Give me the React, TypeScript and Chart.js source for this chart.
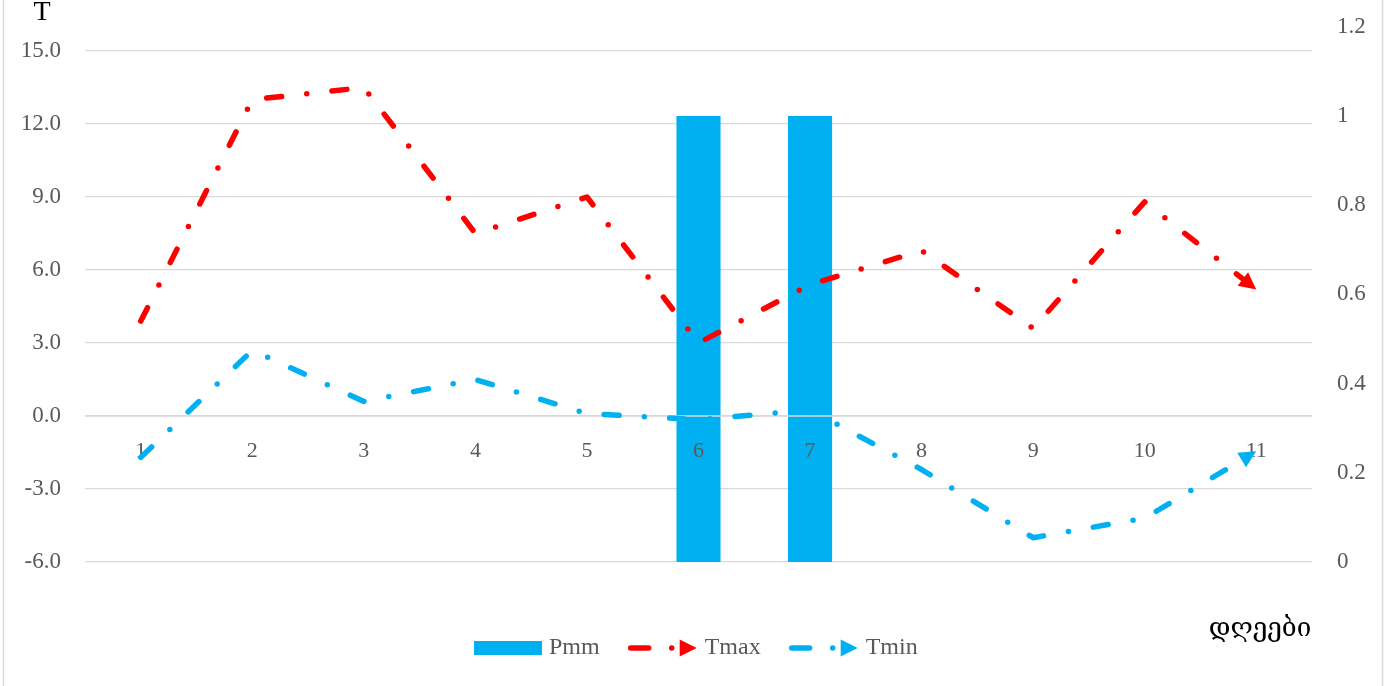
import React, { useEffect, useRef } from 'react';
import { Chart, registerables } from 'chart.js';

Chart.register(...registerables);

// ---- data ----
const categories = ['1', '2', '3', '4', '5', '6', '7', '8', '9', '10', '11'];
const pmm = [0, 0, 0, 0, 0, 1, 1, 0, 0, 0, 0];
const tmax = [3.9, 13.0, 13.5, 7.5, 9.0, 3.0, 5.4, 6.8, 3.6, 8.8, 5.2];
const tmin = [-1.7, 2.7, 0.6, 1.5, 0.1, -0.15, 0.25, -2.2, -5.0, -4.2, -1.45];
const leftTicks = [-6, -3, 0, 3, 6, 9, 12, 15];
const rightTicks = [0, 0.2, 0.4, 0.6, 0.8, 1, 1.2];
const seriesNames = ['Pmm', 'Tmax', 'Tmin'];
const yTitle = 'T';
const xTitle = 'დღეები';

// ---- styles ----
const BLUE = '#00B0F0';
const RED = '#FF0000';
const GRID = '#D9D9D9';
const TEXT = '#595959';
const SERIF = "'Liberation Serif', 'Times New Roman', serif";
const DASH = [15, 25.3, 0, 25.3];
const LINE_W = 5.5;

function drawTriangle(ctx: CanvasRenderingContext2D, tipX: number, tipY: number, angle: number, len: number, half: number, color: string) {
  const dx = Math.cos(angle), dy = Math.sin(angle);
  const bx = tipX - dx * len, by = tipY - dy * len;
  ctx.beginPath();
  ctx.moveTo(tipX, tipY);
  ctx.lineTo(bx - dy * half, by + dx * half);
  ctx.lineTo(bx + dy * half, by - dx * half);
  ctx.closePath();
  ctx.fillStyle = color;
  ctx.fill();
}

const decorPlugin = {
  id: 'decor',
  beforeDraw(chart: any) {
    const ctx = chart.ctx as CanvasRenderingContext2D;
    ctx.save();
    ctx.strokeStyle = GRID;
    ctx.lineWidth = 1.5;
    ctx.beginPath();
    ctx.moveTo(3.5, 0);
    ctx.lineTo(3.5, chart.height);
    ctx.moveTo(1382.5, 0);
    ctx.lineTo(1382.5, chart.height);
    ctx.stroke();
    ctx.restore();
  },
  afterDatasetDraw(chart: any, args: any) {
    if (args.index !== 0) return;
    const ctx = chart.ctx as CanvasRenderingContext2D;
    const xs = chart.scales.x;
    const ys = chart.scales.y;
    const y0 = ys.getPixelForValue(0);
    ctx.save();
    ctx.strokeStyle = GRID;
    ctx.lineWidth = 1.3;
    ctx.beginPath();
    ctx.moveTo(chart.chartArea.left, y0);
    ctx.lineTo(chart.chartArea.right, y0);
    ctx.stroke();
    ctx.fillStyle = TEXT;
    ctx.font = `22px ${SERIF}`;
    ctx.textAlign = 'center';
    ctx.textBaseline = 'middle';
    categories.forEach((c, i) => {
      ctx.fillText(c, xs.getPixelForValue(i), y0 + 35);
    });
    ctx.restore();
  },
  afterDatasetsDraw(chart: any) {
    const ctx = chart.ctx as CanvasRenderingContext2D;
    ctx.save();
    [1, 2].forEach((di) => {
      const meta = chart.getDatasetMeta(di);
      const pts = meta.data;
      const n = pts.length;
      const a = pts[n - 2], b = pts[n - 1];
      const ang = Math.atan2(b.y - a.y, b.x - a.x);
      drawTriangle(ctx, b.x, b.y, ang, 17, 8.5, chart.data.datasets[di].borderColor);
    });
    ctx.restore();
  },
  afterDraw(chart: any) {
    const ctx = chart.ctx as CanvasRenderingContext2D;
    ctx.save();
    // axis titles
    ctx.fillStyle = '#000000';
    ctx.font = `28px ${SERIF}`;
    ctx.textAlign = 'center';
    ctx.textBaseline = 'middle';
    ctx.fillText(yTitle, 42, 13);
    ctx.font = "26px 'DejaVu Serif', 'DejaVu Sans', sans-serif";
    ctx.fillText(xTitle, 1260, 629);

    // legend
    const ly = 648;
    ctx.font = `24px ${SERIF}`;
    ctx.textAlign = 'left';
    ctx.textBaseline = 'middle';
    let x = 474;
    // Pmm
    ctx.fillStyle = BLUE;
    ctx.fillRect(x, ly - 7, 68, 14);
    x += 68 + 7;
    ctx.fillStyle = TEXT;
    ctx.fillText(seriesNames[0], x, ly);
    x += ctx.measureText(seriesNames[0]).width + 28;
    // lines
    [[RED, seriesNames[1]], [BLUE, seriesNames[2]]].forEach(([col, name]) => {
      ctx.strokeStyle = col;
      ctx.fillStyle = col;
      ctx.lineWidth = LINE_W;
      ctx.lineCap = 'round';
      ctx.beginPath();
      ctx.moveTo(x + 3, ly);
      ctx.lineTo(x + 21, ly);
      ctx.stroke();
      ctx.beginPath();
      ctx.arc(x + 44, ly, LINE_W / 2, 0, Math.PI * 2);
      ctx.fill();
      drawTriangle(ctx, x + 69, ly, 0, 17, 8.5, col);
      x += 69 + 8;
      ctx.fillStyle = TEXT;
      ctx.fillText(name, x, ly);
      x += ctx.measureText(name).width + 28;
    });
    ctx.restore();
  },
};

export default function App() {
  const ref = useRef<HTMLCanvasElement | null>(null);

  useEffect(() => {
    if (!ref.current) return;
    const chart = new Chart(ref.current, {
      type: 'bar',
      data: {
        labels: categories,
        datasets: [
          {
            type: 'bar',
            label: seriesNames[0],
            data: pmm,
            yAxisID: 'y1',
            backgroundColor: BLUE,
            borderWidth: 0,
            barPercentage: 0.395,
            categoryPercentage: 1,
            order: 5,
          } as any,
          {
            type: 'line',
            label: seriesNames[1],
            data: tmax,
            yAxisID: 'y',
            borderColor: RED,
            borderWidth: LINE_W,
            borderDash: DASH,
            borderCapStyle: 'round',
            borderJoinStyle: 'round',
            pointRadius: 0,
            tension: 0,
            fill: false,
            order: 1,
          } as any,
          {
            type: 'line',
            label: seriesNames[2],
            data: tmin,
            yAxisID: 'y',
            borderColor: BLUE,
            borderWidth: LINE_W,
            borderDash: DASH,
            borderCapStyle: 'round',
            borderJoinStyle: 'round',
            pointRadius: 0,
            tension: 0,
            fill: false,
            order: 2,
          } as any,
        ],
      },
      options: {
        responsive: false,
        animation: false,
        layout: { padding: { top: 51, bottom: 124, left: 0, right: 0 } },
        plugins: {
          legend: { display: false },
          tooltip: { enabled: false },
        },
        scales: {
          x: {
            type: 'category',
            display: false,
            offset: true,
          },
          y: {
            type: 'linear',
            position: 'left',
            min: -6,
            max: 15,
            afterBuildTicks: (s: any) => {
              s.ticks = leftTicks.map((v) => ({ value: v }));
            },
            ticks: {
              color: TEXT,
              font: { family: SERIF, size: 23 },
              padding: 24,
              callback: (v: any) => Number(v).toFixed(1),
            },
            grid: { color: GRID, lineWidth: 1.3, drawTicks: false },
            border: { display: false },
            afterFit: (s: any) => {
              s.width = 85;
            },
          },
          y1: {
            type: 'linear',
            position: 'right',
            min: 0,
            max: 1.1457,
            afterBuildTicks: (s: any) => {
              s.ticks = rightTicks.map((v) => ({ value: v }));
            },
            ticks: {
              color: TEXT,
              font: { family: SERIF, size: 23 },
              padding: 25,
              callback: (v: any) => String(Math.round(Number(v) * 10) / 10),
            },
            grid: { display: false, drawTicks: false },
            border: { display: false },
            afterFit: (s: any) => {
              s.width = 76;
            },
          },
        },
      } as any,
      plugins: [decorPlugin as any],
    });
    return () => chart.destroy();
  }, []);

  return (
    <div style={{ position: 'absolute', left: 0, top: 0, width: 1388, height: 686, background: '#ffffff' }}>
      <canvas ref={ref} width={1388} height={686} />
    </div>
  );
}
